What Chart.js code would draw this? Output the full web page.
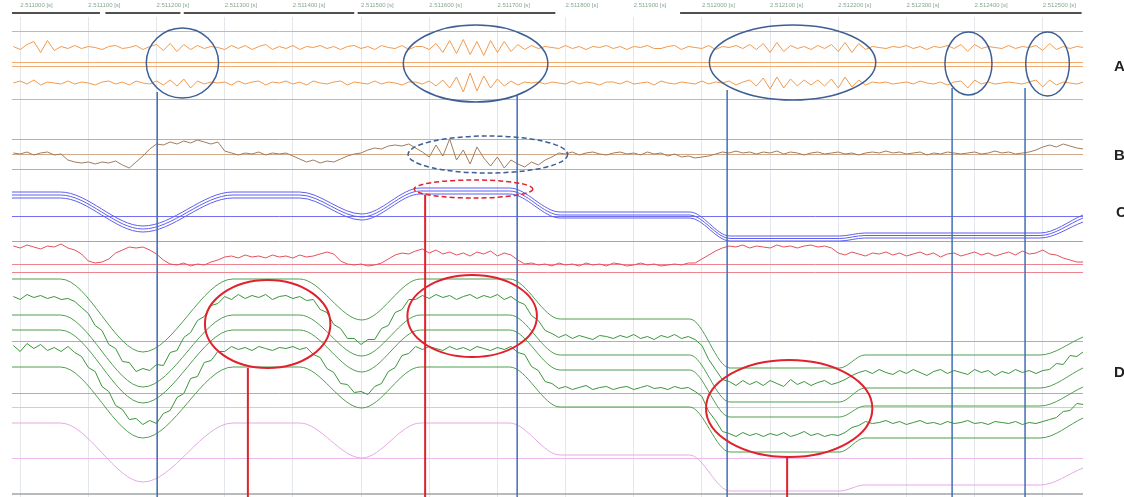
<!DOCTYPE html>
<html>
<head>
<meta charset="utf-8">
<script src="https://cdn.jsdelivr.net/npm/chart.js@4/dist/chart.umd.min.js"></script>
<style>
  html, body { margin: 0; padding: 0; background: #fff; }
  canvas { display: block; }
</style>
</head>
<body>
<canvas id="scope" width="1124" height="497"></canvas>
<script>
// ---- time axis (x in units of 0.1 ms after 2.511 s) ----
const TICK_VALUES = [0, 1, 2, 3, 4, 5, 6, 7, 8, 9, 10, 11, 12, 13, 14, 15];
const TICK_LABELS = [
  "2.511000 [s]", "2.511100 [s]", "2.511200 [s]", "2.511300 [s]",
  "2.511400 [s]", "2.511500 [s]", "2.511600 [s]", "2.511700 [s]",
  "2.511800 [s]", "2.511900 [s]", "2.512000 [s]", "2.512100 [s]",
  "2.512200 [s]", "2.512300 [s]", "2.512400 [s]", "2.512500 [s]"
];

// noisy channels are sampled every 0.1 unit starting at -0.1
const SAMPLE_START = -0.1, SAMPLE_STEP = 0.1;

const A1 = [
  0.1, -0.2, 0.3, 0.6, -0.5, 0.7, -0.3, 0.1, -0.1, 0.2,
  -0.1, 0.1, 0.0, -0.2, 0.1, 0.2, -0.1, 0.0, 0.2, -0.2,
  0.1, 0.3, -0.3, 0.4, -0.4, 0.3, -0.2, 0.2, -0.1, 0.1,
  0.0, -0.2, 0.2, -0.1, 0.2, -0.2, 0.1, 0.3, -0.2, 0.1,
  -0.1, 0.2, -0.2, 0.1, 0.0, 0.2, -0.1, 0.1, -0.2, 0.1,
  0.2, -0.1, 0.1, -0.2, 0.2, 0.0, -0.1, 0.2, -0.2, 0.1,
  0.1, -0.2, 0.4, -0.5, 0.7, -0.6, 0.8, -0.7, 0.6, -0.8,
  0.7, -0.5, 0.6, -0.4, 0.3, -0.2, 0.2, -0.1, 0.1, 0.0,
  -0.1, 0.2, -0.1, 0.1, -0.2, 0.1, 0.0, 0.2, -0.1, 0.1,
  -0.2, 0.1, 0.0, 0.2, -0.1, -0.1, 0.1, 0.2, -0.2, 0.1,
  0.0, -0.1, 0.2, -0.2, 0.1, 0.0, 0.2, -0.1, 0.3, -0.2,
  0.4, -0.5, 0.5, -0.4, 0.2, -0.1, 0.1, -0.2, 0.2, -0.1,
  0.3, -0.4, 0.5, -0.5, 0.4, -0.2, 0.1, 0.0, -0.1, 0.1,
  0.0, 0.2, -0.1, 0.1, -0.2, 0.1, 0.0, 0.2, -0.1, 0.3,
  -0.4, 0.3, -0.1, 0.1, 0.0, -0.1, 0.2, -0.1, 0.1, 0.0,
  0.2, -0.3, 0.4, -0.2, 0.1, -0.1, 0.1, 0.0
];
const A2 = [
  0.0, 0.2, -0.1, 0.3, -0.2, 0.1, 0.0, -0.1, 0.2, -0.1,
  0.1, 0.0, -0.2, 0.1, 0.2, -0.1, 0.1, -0.2, 0.2, 0.0,
  -0.1, 0.2, -0.2, 0.3, -0.3, 0.4, -0.5, 0.2, -0.1, 0.1,
  0.0, 0.1, -0.2, 0.2, -0.1, 0.1, 0.2, -0.2, 0.1, 0.0,
  0.2, -0.1, 0.1, -0.2, 0.2, 0.0, -0.1, 0.1, 0.2, -0.2,
  0.1, 0.0, -0.1, 0.2, -0.1, 0.1, 0.0, -0.2, 0.1, 0.1,
  -0.1, 0.2, -0.3, 0.3, -0.5, 0.6, -0.9, 1.0, -0.8, 0.7,
  -0.5, 0.4, -0.3, 0.2, -0.2, 0.1, 0.0, 0.1, -0.1, 0.1,
  0.0, -0.1, 0.2, -0.1, 0.1, 0.0, -0.2, 0.1, 0.1, -0.1,
  0.2, -0.1, 0.0, 0.1, -0.2, 0.2, 0.0, -0.1, 0.1, 0.0,
  -0.1, 0.2, -0.1, 0.1, 0.0, 0.2, -0.2, 0.1, 0.3, -0.3,
  0.5, -0.6, 0.6, -0.5, 0.4, -0.3, 0.3, -0.2, 0.3, -0.3,
  0.4, -0.5, 0.6, -0.4, 0.3, -0.2, 0.1, 0.0, 0.1, -0.1,
  0.0, 0.1, -0.1, 0.2, 0.0, -0.1, 0.1, -0.2, 0.1, 0.2,
  -0.5, 0.3, -0.1, 0.1, -0.1, 0.0, 0.1, 0.0, -0.1, 0.1,
  0.3, -0.4, 0.3, -0.2, 0.1, 0.0, -0.1, 0.1
];
const B = [
  0.1, 0.0, 0.2, -0.1, 0.1, 0.2, -0.1, 0.0, -0.6, -0.8,
  -0.9, -0.8, -1.0, -0.8, -0.9, -0.7, -1.1, -1.4, -0.8, -0.2,
  0.5, 1.0, 0.9, 1.2, 1.0, 1.3, 1.1, 1.4, 1.2, 1.0,
  1.2, 0.3, 0.1, -0.1, 0.1, 0.0, 0.2, -0.1, 0.1, 0.0,
  0.1, -0.2, -0.5, -0.8, -0.6, -0.9, -0.7, -0.8, -0.5, -0.2,
  0.0, 0.1, 0.4, 0.6, 0.5, 0.8, 0.9, 0.8, 1.0, 0.6,
  0.2, -0.3, 0.9, -0.2, 1.5, -0.6, 0.4, -1.0, 0.7, -0.4,
  -1.2, -0.3, -1.4, -0.6, -1.0, -1.3, -0.8, -1.1, -0.6, -0.3,
  0.1, 0.0, 0.2, -0.1, 0.1, 0.2, 0.0, -0.1, 0.1, 0.2,
  0.0, 0.1, -0.1, 0.2, 0.0, 0.1, -0.2, 0.0, -0.3, -0.2,
  -0.4, -0.3, -0.2, 0.0, 0.2, 0.1, 0.3, 0.1, 0.2, 0.0,
  0.2, 0.1, 0.3, 0.0, 0.2, 0.1, -0.1, 0.1, 0.2, 0.0,
  0.1, 0.2, 0.0, 0.1, -0.1, 0.1, 0.2, 0.1, 0.3, 0.1,
  0.2, 0.0, 0.1, 0.2, -0.1, 0.1, 0.0, 0.2, 0.1, 0.0,
  0.1, 0.2, 0.0, 0.1, 0.3, 0.1, 0.2, 0.0, 0.1, 0.2,
  0.4, 0.7, 0.9, 0.7, 1.0, 0.8, 0.6, 0.5
];
const R = [
  1.0, 0.8, 1.1, 0.9, 0.7, 1.0, 0.9, 1.2, 0.8, 0.6,
  0.2, -0.5, -0.7, -0.6, -0.3, 0.3, 0.6, 0.9, 0.8, 0.9,
  0.6, 0.2, -0.4, -0.8, -0.9, -0.7, -1.0, -0.8, -0.9, -0.6,
  -0.4, -0.1, 0.0, -0.2, 0.1, -0.1, 0.0, -0.2, 0.1, -0.1,
  0.0, -0.2, 0.1, -0.1, 0.0, 0.2, 0.4, 0.2, -0.5, -0.8,
  -0.9, -0.8, -1.0, -0.9, -0.7, -0.3, 0.1, 0.3, 0.2, 0.5,
  0.7, 0.3, 0.6, 0.2, 0.4, 0.1, 0.3, 0.0, 0.4, 0.2,
  0.5, 0.0, 0.3, 0.1, -0.4, -0.8, -0.7, -0.9, -0.8, -1.0,
  -0.7, -0.9, -0.8, -1.0, -0.7, -0.9, -0.8, -1.0, -0.7, -0.8,
  -1.0, -0.9, -0.7, -0.9, -0.8, -1.0, -0.9, -0.8, -0.9, -0.7,
  -0.7, -0.3, 0.1, 0.5, 0.8, 1.0, 0.9, 1.1, 0.8, 1.0,
  0.9, 0.8, 1.1, 0.9, 1.0, 0.8, 1.0, 1.1, 0.9, 1.0,
  0.8, 0.3, 0.1, 0.4, 0.2, 0.0, 0.3, 0.2, 0.4, 0.1,
  0.3, 0.0, 0.2, 0.4, 0.1, 0.3, -0.1, 0.2, 0.3, 0.0,
  0.2, 0.4, 0.1, 0.3, 0.0, 0.2, 0.4, 0.1, 0.5, 0.2,
  0.3, 0.6, 0.2, 0.1, -0.2, -0.4, -0.6, -0.6
];
const N1 = [
  7.1, 6.8, 7.3, 7.0, 7.2, 6.9, 7.1, 6.8, 6.9, 6.6,
  6.0, 5.4, 4.2, 3.7, 2.3, 1.9, 0.6, 0.5, -0.4, -0.1,
  -0.3, 0.3, 0.2, 1.5, 1.7, 3.0, 3.5, 4.7, 5.1, 6.2,
  6.4, 7.1, 6.8, 7.3, 6.9, 7.2, 7.0, 7.3, 6.8, 7.1,
  7.2, 6.9, 7.1, 6.7, 6.8, 5.8, 5.5, 4.3, 3.9, 2.9,
  2.9, 2.3, 2.8, 2.8, 3.9, 4.2, 5.5, 5.8, 6.8, 6.8,
  7.2, 6.9, 7.3, 7.0, 7.2, 6.8, 7.1, 7.3, 6.9, 7.2,
  7.0, 7.3, 6.8, 7.1, 6.6, 6.3, 5.2, 4.7, 3.7, 3.4,
  3.0, 3.3, 2.9, 3.2, 3.0, 2.8, 3.2, 3.1, 2.9, 3.2,
  3.0, 3.3, 2.9, 3.1, 2.8, 3.2, 3.0, 3.3, 2.9, 3.1,
  2.8, 2.2, 0.8, -0.2, -1.2, -1.4, -1.8, -1.3, -1.7, -1.4,
  -1.8, -1.3, -1.6, -1.9, -1.2, -1.7, -1.4, -1.8, -1.5, -1.3,
  -1.7, -1.5, -1.2, -0.8, -0.5, -0.3, -0.6, -0.2, -0.5, -0.7,
  -0.3, -0.6, -0.2, -0.5, -0.8, -0.4, -0.2, -0.6, -0.3, -0.5,
  -0.7, -0.2, -0.5, -0.3, -0.8, -0.4, -0.6, -0.2, -0.5, -0.3,
  -0.6, -0.3, -0.2, 0.4, 0.3, 1.2, 1.1, 1.6
];
const N2 = [
  2.2, 1.6, 2.4, 1.9, 2.3, 1.7, 2.0, 1.6, 2.1, 1.5,
  1.1, 0.0, -0.4, -1.9, -2.4, -3.8, -4.2, -5.2, -5.1, -5.7,
  -5.3, -5.6, -4.6, -4.3, -3.0, -2.6, -1.1, -0.9, 0.5, 0.7,
  1.6, 1.6, 2.1, 1.8, 2.0, 1.7, 2.1, 1.9, 1.7, 2.0,
  1.9, 2.1, 1.8, 2.0, 1.3, 1.0, -0.1, -0.5, -1.6, -1.7,
  -2.5, -2.4, -2.7, -1.9, -1.6, -0.4, 0.0, 1.2, 1.4, 2.1,
  1.8, 2.1, 1.9, 1.7, 2.1, 1.8, 2.0, 1.7, 2.1, 1.9,
  1.7, 2.0, 1.8, 2.1, 1.5, 1.3, 0.1, -0.3, -1.4, -1.6,
  -2.1, -1.9, -2.2, -2.0, -1.8, -2.2, -2.0, -1.9, -2.2, -2.0,
  -1.9, -2.2, -2.0, -1.8, -2.1, -2.0, -2.2, -1.9, -2.1, -2.0,
  -2.4, -2.9, -4.4, -5.3, -6.4, -6.6, -6.9, -6.5, -6.8, -6.6,
  -6.9, -6.6, -6.8, -6.5, -6.9, -6.7, -6.4, -6.8, -6.6, -6.9,
  -6.7, -6.8, -6.5, -6.0, -5.8, -5.4, -5.6, -5.5, -5.3, -5.6,
  -5.4, -5.7, -5.5, -5.3, -5.6, -5.5, -5.7, -5.4, -5.6, -5.5,
  -5.3, -5.6, -5.5, -5.7, -5.4, -5.5, -5.6, -5.4, -5.7, -5.5,
  -5.6, -5.4, -5.2, -5.0, -4.4, -4.3, -3.6, -3.7
];

// smooth channels: values at these knot times
const SLOW_T = [-0.12, 0.59, 1.8, 3.12, 4.1, 5.01, 5.87, 7.18, 7.92, 9.82, 10.41, 12.02, 12.39, 14.96, 15.59];
const C_HI  = [2.4, 2.4, -1.0, 2.4, 2.4, 0.2, 2.8, 2.8, 0.4, 0.4, -2.0, -2.0, -1.7, -1.7, 0.1];
const C_MID = [2.1, 2.1, -1.3, 2.1, 2.1, -0.1, 2.5, 2.5, 0.1, 0.1, -2.25, -2.25, -1.95, -1.95, -0.2];
const C_LO  = [1.8, 1.8, -1.6, 1.8, 1.8, -0.4, 2.2, 2.2, -0.2, -0.2, -2.5, -2.5, -2.2, -2.2, -0.6];
const G1 = [8.85, 8.85, 1.55, 8.85, 8.85, 4.75, 8.85, 8.85, 4.85, 4.85, -0.05, -0.05, 1.25, 1.25, 3.05];
const G2 = [5.25, 5.25, -1.95, 5.25, 5.25, 1.15, 5.25, 5.25, 1.25, 1.25, -3.45, -3.45, -2.05, -2.05, -0.05];
const G3 = [3.75, 3.75, -3.55, 3.75, 3.75, -0.45, 3.75, 3.75, -0.25, -0.25, -4.95, -4.95, -3.85, -3.85, -1.95];
const G4 = [0.05, 0.05, -7.05, 0.05, 0.05, -4.05, 0.05, 0.05, -3.95, -3.95, -8.45, -8.45, -7.05, -7.05, -5.05];
const P  = [0.95, 0.95, -4.95, 0.95, 0.95, -2.55, 0.95, 0.95, -2.25, -2.25, -5.85, -5.85, -5.25, -5.25, -3.55];

// reference levels of each channel
const REF_A1 = [1.55, -1.55];
const REF_A2 = [1.6, -1.6];
const REF_B = [1.5, 0, -1.5];
const REF_C = [0];
const REF_R = [1.5, -0.9, -1.6];
const REF_D = [2.55, -2.55];
const REF_P = [2.55, -2.55];

// annotations: [time, value, half width (time), half height (value)]
const BLUE_RINGS = [[2.38, -1.55, 0.53, 3.5], [6.68, -1.6, 1.06, 3.85], [11.33, -1.5, 1.22, 3.75], [13.91, -1.6, 0.345, 3.15], [15.07, -1.65, 0.32, 3.2]];
const BLUE_DASH = [6.86, -0.05, 1.17, 1.85];
const RED_DASH = [6.65, 2.7, 0.87, 0.9];
const RED_RINGS = [[3.63, 4.35, 0.92, 4.4], [6.63, 5.15, 0.95, 4.1], [11.28, -4.1, 1.22, 4.85]];
const BLUE_MARK_T = [2.01, 7.29, 10.37, 13.67, 14.74];
const BLUE_MARK_FROM = [-4.45, -4.75, -4.25, -4.05, -4.05];
const RED_MARKS = [[3.34, 'dd', -0.05], [5.94, 'cc', 2.1], [11.25, 'dd', -8.95]];
const RULER = [[-0.12, 1.17], [1.25, 2.35], [2.4, 4.9], [4.95, 7.85], [9.68, 15.57]];

// ---- layout ----
const TOP = 17, BOTTOM = 497, PX = 10;

function lane(zeroPx, refs, color) {
  return {
    type: 'linear', axis: 'y', display: true, position: 'left', bounds: 'data',
    min: -(BOTTOM - zeroPx) / PX, max: (zeroPx - TOP) / PX,
    afterBuildTicks: s => { s.ticks = refs.map(v => ({ value: v })); },
    ticks: { display: false },
    grid: { color: color, drawTicks: false, lineWidth: 1 },
    border: { display: false }
  };
}

const fast = vals => vals.map((v, i) => ({ x: SAMPLE_START + i * SAMPLE_STEP, y: v }));
const slow = vals => SLOW_T.map((t, i) => ({ x: t, y: vals[i] }));

function trace(vals, axis, color, smooth) {
  return {
    data: smooth ? slow(vals) : fast(vals),
    yAxisID: axis, borderColor: color, borderWidth: 1,
    pointRadius: 0, fill: false,
    cubicInterpolationMode: smooth ? 'monotone' : 'default', tension: 0
  };
}

const marks = {
  id: 'marks',
  afterDatasetsDraw(chart) {
    const { ctx, chartArea, scales } = chart;
    const x = scales.x;
    ctx.save();

    ctx.strokeStyle = '#505050';
    ctx.lineWidth = 2;
    RULER.forEach(([a, b]) => {
      ctx.beginPath();
      ctx.moveTo(x.getPixelForValue(a), chartArea.top - 4);
      ctx.lineTo(x.getPixelForValue(b), chartArea.top - 4);
      ctx.stroke();
    });

    ctx.strokeStyle = '#a0a4a8';
    ctx.lineWidth = 1.5;
    ctx.beginPath();
    ctx.moveTo(chartArea.left, chartArea.bottom - 3);
    ctx.lineTo(chartArea.right, chartArea.bottom - 3);
    ctx.stroke();

    const ring = (r, axis, color, w, dash) => {
      const s = scales[axis];
      const cx = x.getPixelForValue(r[0]), cy = s.getPixelForValue(r[1]);
      const rx = Math.abs(x.getPixelForValue(r[0] + r[2]) - cx);
      const ry = Math.abs(s.getPixelForValue(r[1] + r[3]) - cy);
      ctx.strokeStyle = color;
      ctx.lineWidth = w;
      ctx.setLineDash(dash || []);
      ctx.beginPath();
      ctx.ellipse(cx, cy, rx, ry, 0, 0, Math.PI * 2);
      ctx.stroke();
    };
    const vline = (t, axis, from, color, w) => {
      const px = x.getPixelForValue(t);
      ctx.strokeStyle = color;
      ctx.lineWidth = w;
      ctx.setLineDash([]);
      ctx.beginPath();
      ctx.moveTo(px, scales[axis].getPixelForValue(from));
      ctx.lineTo(px, chartArea.bottom);
      ctx.stroke();
    };

    BLUE_MARK_T.forEach((t, i) => vline(t, 'a1', BLUE_MARK_FROM[i], '#3f6fb5', 1.5));
    RED_MARKS.forEach(m => vline(m[0], m[1], m[2], '#e0222c', 2));
    BLUE_RINGS.forEach(r => ring(r, 'a1', '#3d5f93', 1.5));
    ring(BLUE_DASH, 'bb', '#3d5f93', 1.5, [5, 3]);
    ring(RED_DASH, 'cc', '#e0222c', 1.5, [5, 3]);
    RED_RINGS.forEach(r => ring(r, 'dd', '#e0222c', 2));

    ctx.setLineDash([]);
    ctx.fillStyle = '#222';
    ctx.font = 'bold 15px "Liberation Sans", Arial, sans-serif';
    ctx.textBaseline = 'middle';
    ctx.fillText('A', chartArea.right + 31, scales.a1.getPixelForValue(-1.95));
    ctx.fillText('B', chartArea.right + 31, scales.bb.getPixelForValue(-0.2));
    ctx.fillText('C', chartArea.right + 33, scales.cc.getPixelForValue(0.3));
    ctx.fillText('D', chartArea.right + 31, scales.dd.getPixelForValue(-0.55));
    ctx.restore();
  }
};

new Chart(document.getElementById('scope'), {
  type: 'line',
  data: {
    datasets: [
      trace(A1, 'a1', '#f29a4c'),
      trace(A2, 'a2', '#f29a4c'),
      trace(B, 'bb', '#a07c5c'),
      trace(C_HI, 'cc', '#5e5eee', true),
      trace(C_MID, 'cc', '#5e5eee', true),
      trace(C_LO, 'cc', '#5e5eee', true),
      trace(R, 'rd', '#e4505c'),
      trace(G1, 'dd', '#4f9f4f', true),
      trace(G2, 'dd', '#4f9f4f', true),
      trace(G3, 'dd', '#4f9f4f', true),
      trace(G4, 'dd', '#4f9f4f', true),
      trace(N1, 'dd', '#3a963a'),
      trace(N2, 'dd', '#3a963a'),
      trace(P, 'pk', '#e6a8e6', true)
    ]
  },
  options: {
    responsive: false,
    animation: false,
    layout: { padding: { top: -5.8, left: 12, right: 41, bottom: 0 } },
    plugins: { legend: { display: false }, tooltip: { enabled: false } },
    scales: {
      x: {
        type: 'linear', position: 'top', bounds: 'data', min: -0.12, max: 15.59,
        afterBuildTicks: s => { s.ticks = TICK_VALUES.map(v => ({ value: v })); },
        ticks: {
          autoSkip: false, maxRotation: 0, minRotation: 0, align: 'start', padding: 7.8,
          color: '#86a88c', font: { size: 6, family: '"Liberation Sans", Arial, sans-serif' },
          callback: (v, i) => TICK_LABELS[i]
        },
        grid: { color: '#e3e7ec', drawTicks: false },
        border: { display: false }
      },
      a1: lane(47.5, REF_A1, '#f5ab6e'),
      a2: lane(83, REF_A2, '#f5ab6e'),
      bb: lane(154, REF_B, '#cfa98c'),
      cc: lane(216, REF_C, '#7070f0'),
      rd: lane(256, REF_R, '#f0848e'),
      dd: lane(367.5, REF_D, '#86cc86'),
      pk: lane(432.5, REF_P, '#eebaee')
    }
  },
  plugins: [marks]
});
</script>
</body>
</html>
